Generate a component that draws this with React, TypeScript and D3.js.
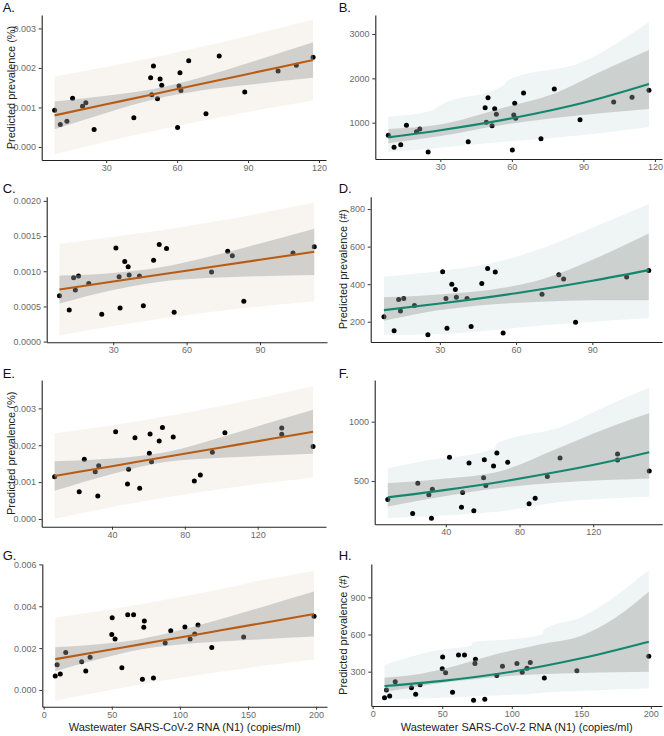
import React, { useEffect, useRef } from 'react';
import * as d3 from 'd3';

// ---------- row 1 : panels A (%) and B (#) ----------
const wwRow1 = [8.2, 10.6, 13.4, 15.8, 20.0, 21.4, 24.9, 41.7, 48.8, 49.3, 50.0, 51.7, 52.8, 53.5, 60.2, 60.8, 61.2, 61.6, 64.9, 72.2, 77.8, 88.6, 102.7, 110.4, 117.5];
const pctA = [0.00093, 0.00057, 0.00065, 0.00123, 0.00103, 0.00112, 0.00044, 0.00074, 0.00175, 0.00132, 0.00205, 0.00122, 0.00172, 0.00156, 0.00049, 0.00154, 0.00188, 0.00143, 0.00218, 0.00084, 0.0023, 0.00139, 0.00192, 0.00207, 0.00227];
const numB = [714, 444, 504, 940, 797, 857, 338, 571, 1338, 1008, 1564, 932, 1316, 1188, 383, 1173, 1436, 1098, 1669, 639, 1759, 1068, 1466, 1571, 1729];

const gridA = [8.2, 30, 50, 70, 90, 117.5];
const fitA = [0.0008, 0.001079, 0.001335, 0.001592, 0.001848, 0.0022];
const ciLoA = [0.00045, 0.000862, 0.0012, 0.001426, 0.001572, 0.00175];
const ciHiA = [0.00115, 0.001296, 0.00147, 0.001758, 0.002124, 0.00265];
const piLoA = [-0.000184, 0.000134, 0.000405, 0.000657, 0.000888, 0.001176];
const piHiA = [0.001784, 0.002024, 0.002265, 0.002527, 0.002808, 0.003224];

const curveXB = [8.2, 30, 60, 90, 117.5];
const curveB = [669, 830, 1100, 1450, 1873];
const ciXB = [8.2, 30, 56, 77, 98, 117.5];
const ciLoB = [534, 700, 950, 1100, 1220, 1310];
const ciHiB = [860, 960, 1330, 1640, 2170, 2640];
const piXB = [8.2, 27, 28, 57, 58, 90, 117.5];
const piLoB = [346, 420, 425, 571, 575, 722, 900];
const piHiB = [1135, 1280, 1330, 1860, 1950, 2380, 3278];

// ---------- row 2 : panels C (%) and D (#) ----------
const wwRow2 = [8.0, 12.0, 13.8, 14.5, 15.8, 20.0, 25.3, 31.1, 32.4, 32.8, 34.7, 36.1, 36.5, 40.7, 42.3, 46.5, 48.8, 51.8, 54.9, 70.2, 76.8, 78.7, 83.4, 103.5, 112.2];
const pctC = [0.000652, 0.000449, 0.000908, 0.000733, 0.000931, 0.000827, 0.000388, 0.001329, 0.000922, 0.000478, 0.001139, 0.001064, 0.000946, 0.000931, 0.000511, 0.001158, 0.001381, 0.001324, 0.000416, 0.000988, 0.001286, 0.00122, 0.000572, 0.001258, 0.001348];
const numD = [227, 152, 319, 257, 324, 287, 131, 466, 324, 165, 399, 372, 330, 324, 175, 404, 484, 465, 140, 346, 450, 427, 197, 438, 473];

const gridC = [8.0, 30, 50, 70, 90, 112.2];
const fitC = [0.00074, 0.000854, 0.000957, 0.00106, 0.001163, 0.001277];
const ciLoC = [0.00054, 0.000732, 0.000854, 0.000906, 0.00093, 0.000948];
const ciHiC = [0.00094, 0.000976, 0.00106, 0.001214, 0.001396, 0.001606];
const piLoC = [0.000089, 0.000222, 0.000329, 0.000421, 0.0005, 0.000575];
const piHiC = [0.001391, 0.001486, 0.001585, 0.001699, 0.001826, 0.001979];

const curveXD = [8.0, 30, 60, 90, 112.2];
const curveD = [262, 297, 352, 418, 475];
const gridD = [8.0, 30, 50, 70, 90, 112.2];
const ciLoD = [205, 262, 292, 306, 314, 315];
const ciHiD = [330, 345, 370, 425, 530, 670];
const piLoD = [129, 134, 155, 180, 200, 218];
const piHiD = [440, 470, 510, 590, 700, 827];

// ---------- row 3 : panels E (%) and F (#) ----------
const wwRow3 = [8.5, 22.0, 24.8, 30.8, 32.7, 32.2, 42.0, 48.5, 49.1, 52.6, 55.2, 60.5, 60.9, 61.7, 65.9, 67.7, 73.6, 85.2, 88.5, 95.1, 102.0, 133.2, 133.2, 150.4];
const pctE = [0.001147, 0.000741, 0.001617, 0.001283, 0.001445, 0.000623, 0.002367, 0.000949, 0.001346, 0.002204, 0.000831, 0.00178, 0.002304, 0.001554, 0.002114, 0.002484, 0.002222, 0.00103, 0.001192, 0.001807, 0.00234, 0.002466, 0.002295, 0.001969];
const numF = [345, 225, 480, 385, 430, 185, 699, 278, 402, 652, 250, 528, 680, 463, 626, 736, 657, 309, 354, 537, 694, 727, 677, 584];

const gridE = [8.5, 40, 70, 100, 130, 150.4];
const fitE = [0.001165, 0.001432, 0.001686, 0.00194, 0.002194, 0.002367];
const ciLoE = [0.000765, 0.001223, 0.001553, 0.001662, 0.001726, 0.001772];
const ciHiE = [0.001565, 0.001641, 0.001819, 0.002218, 0.002662, 0.002962];
const piLoE = [0.000005, 0.000322, 0.000588, 0.000815, 0.001008, 0.001127];
const piHiE = [0.002325, 0.002542, 0.002784, 0.003065, 0.00338, 0.003607];

const gridF = [8.5, 40, 70, 100, 130, 150.4];
const curveF = [362, 425, 494, 575, 669, 742];
const ciLoF = [284, 373, 443, 485, 510, 522];
const ciHiF = [480, 520, 585, 770, 960, 1070];
const piXF = [8.5, 26, 66, 68, 103, 130, 150.4];
const piLoF = [191, 199, 238, 241, 326, 355, 368];
const piHiF = [607, 663, 770, 817, 958, 1150, 1287];

// ---------- row 4 : panels G (%) and H (#) ----------
const wwRow4 = [8.5, 9.9, 12.2, 16.2, 27.9, 30.9, 34.1, 50.3, 50.0, 52.4, 57.4, 61.7, 66.0, 73.5, 73.9, 72.5, 80.6, 89.2, 93.3, 103.7, 107.5, 110.9, 113.3, 123.4, 146.8, 198.5];
const pctG = [0.000672, 0.0012, 0.000768, 0.001792, 0.001344, 0.000912, 0.001568, 0.003456, 0.002656, 0.002432, 0.001056, 0.0036, 0.0036, 0.002992, 0.003296, 0.000512, 0.000576, 0.00224, 0.002832, 0.003008, 0.002432, 0.002672, 0.003104, 0.002032, 0.002528, 0.00352];
const numH = [90, 152, 104, 219, 171, 117, 195, 418, 324, 292, 133, 435, 435, 365, 400, 69, 77, 270, 343, 365, 295, 327, 375, 249, 308, 424];

const gridG = [8.5, 40, 70, 100, 130, 160, 198.5];
const fitG = [0.00147, 0.001825, 0.002167, 0.002508, 0.00285, 0.003192, 0.00363];
const ciLoG = [0.000893, 0.001462, 0.001917, 0.002168, 0.002311, 0.002426, 0.00256];
const ciHiG = [0.002047, 0.002188, 0.002417, 0.002848, 0.003389, 0.003958, 0.0047];
const piLoG = [-0.000516, -0.000109, 0.000251, 0.000578, 0.000875, 0.001143, 0.00145];
const piHiG = [0.003456, 0.003759, 0.004083, 0.004438, 0.004825, 0.005241, 0.0057];

const curveXH = [8.5, 50, 100, 150, 198.5];
const curveH = [184, 226, 300, 408, 542];
const ciXH = [8.5, 30, 50, 92, 120, 150, 175, 198.5];
const ciLoH = [139, 175, 210, 260, 280, 290, 295, 300];
const ciHiH = [252, 275, 320, 450, 520, 590, 740, 945];
const piXH = [8.5, 50, 71, 72, 92, 122, 123, 150, 198.5];
const piLoH = [75, 90, 100, 102, 110, 130, 132, 145, 166];
const piHiH = [354, 480, 510, 540, 555, 600, 640, 740, 1120];

// ---------- axes ----------
const xTicks1 = [30, 60, 90, 120];
const xTicks2 = [30, 60, 90];
const xTicks3 = [40, 80, 120];
const xTicks4 = [0, 50, 100, 150, 200];

const FONT = '"Liberation Sans", Arial, sans-serif';
const PCT_TITLE = 'Predicted prevalence (%)';
const NUM_TITLE = 'Predicted prevalence (#)';
const X_TITLE = 'Wastewater SARS-CoV-2 RNA (N1) (copies/ml)';

const STYLE = [
  { line: '#b85c14', pi: '#f8f5f1' },
  { line: '#13876d', pi: '#eef5f4' },
];

const PANELS = [
  { tag: 'A.', col: 0, box: [41.7, 15, 326, 160], tagY: 11.7, wx: wwRow1, py: pctA, yDomain: [-0.00033, 0.00334], xTicks: xTicks1, yTicks: [0, 0.001, 0.002, 0.003], yFmt: '.3f',
    fitX: gridA, fitY: fitA, ciX: gridA, ciLo: ciLoA, ciHi: ciHiA, piX: gridA, piLo: piLoA, piHi: piHiA, yTitle: PCT_TITLE },
  { tag: 'B.', col: 1, box: [375.3, 15, 662, 159], tagY: 11.7, wx: wwRow1, py: numB, yDomain: [181, 3429], xTicks: xTicks1, yTicks: [1000, 2000, 3000], yFmt: 'd',
    fitX: curveXB, fitY: curveB, ciX: ciXB, ciLo: ciLoB, ciHi: ciHiB, piX: piXB, piLo: piLoB, piHi: piHiB },
  { tag: 'C.', col: 0, box: [46.7, 196.7, 327, 342.3], tagY: 193, wx: wwRow2, py: pctC, yDomain: [-0.00001, 0.00206], xTicks: xTicks2, yTicks: [0, 0.0005, 0.001, 0.0015, 0.002], yFmt: '.4f',
    fitX: gridC, fitY: fitC, ciX: gridC, ciLo: ciLoC, ciHi: ciHiC, piX: gridC, piLo: piLoC, piHi: piHiC },
  { tag: 'D.', col: 1, box: [370.7, 196.7, 662, 342], tagY: 193, wx: wwRow2, py: numD, yDomain: [92, 866], xTicks: xTicks2, yTicks: [200, 400, 600, 800], yFmt: 'd',
    fitX: curveXD, fitY: curveD, ciX: gridD, ciLo: ciLoD, ciHi: ciHiD, piX: gridD, piLo: piLoD, piHi: piHiD, yTitle: NUM_TITLE },
  { tag: 'E.', col: 0, box: [41.7, 380, 326, 526.7], tagY: 378, wx: wwRow3, py: pctE, yDomain: [-0.00021, 0.00377], xTicks: xTicks3, yTicks: [0, 0.001, 0.002, 0.003], yFmt: '.3f',
    fitX: gridE, fitY: fitE, ciX: gridE, ciLo: ciLoE, ciHi: ciHiE, piX: gridE, piLo: piLoE, piHi: piHiE, yTitle: PCT_TITLE },
  { tag: 'F.', col: 1, box: [374.7, 380, 662.3, 524.3], tagY: 378, wx: wwRow3, py: numF, yDomain: [135, 1351], xTicks: xTicks3, yTicks: [500, 1000], yFmt: 'd',
    fitX: gridF, fitY: curveF, ciX: gridF, ciLo: ciLoF, ciHi: ciHiF, piX: piXF, piLo: piLoF, piHi: piHiF },
  { tag: 'G.', col: 0, box: [42.3, 564, 327, 706.7], tagY: 560, wx: wwRow4, py: pctG, yDomain: [-0.0008, 0.00602], xTicks: xTicks4, yTicks: [0, 0.002, 0.004, 0.006], yFmt: '.3f',
    fitX: gridG, fitY: fitG, ciX: gridG, ciLo: ciLoG, ciHi: ciHiG, piX: gridG, piLo: piLoG, piHi: piHiG, xTitle: X_TITLE },
  { tag: 'H.', col: 1, box: [371.3, 564, 662, 706], tagY: 560, wx: wwRow4, py: numH, yDomain: [23, 1169], xTicks: xTicks4, yTicks: [300, 600, 900], yFmt: 'd',
    fitX: curveXH, fitY: curveH, ciX: ciXH, ciLo: ciLoH, ciHi: ciHiH, piX: piXH, piLo: piLoH, piHi: piHiH, yTitle: NUM_TITLE, xTitle: X_TITLE },
];

// ggplot-style 5% expansion of the data range
const expand = (vals: number[]) => {
  const [lo, hi] = d3.extent(vals) as [number, number];
  const pad = (hi - lo) * 0.05;
  return [lo - pad, hi + pad];
};

const styleAxis = (g: any) => {
  g.attr('font-family', FONT).attr('font-size', 9);
  g.select('.domain').attr('stroke', '#222').attr('stroke-width', 1.1);
  g.selectAll('.tick line').attr('stroke', '#333').attr('stroke-width', 1);
  g.selectAll('.tick text').attr('fill', '#6a6a6a');
};

const Panel = ({ p }: { p: any }) => {
  const xRef = useRef<SVGGElement>(null);
  const yRef = useRef<SVGGElement>(null);
  const [l, t, r, b] = p.box;
  const st = STYLE[p.col];

  const x = d3.scaleLinear().domain(expand(p.wx)).range([l, r]);
  const y = d3.scaleLinear().domain(p.yDomain).range([b, t]);

  useEffect(() => {
    const xAxis = d3.axisBottom(x).tickValues(p.xTicks).tickSize(3).tickSizeOuter(0).tickPadding(1.5).tickFormat(d3.format('d'));
    d3.select(xRef.current).call(xAxis as any).call(styleAxis);
    const yAxis = d3.axisLeft(y).tickValues(p.yTicks).tickSize(3).tickSizeOuter(0).tickPadding(2.7).tickFormat(d3.format(p.yFmt));
    d3.select(yRef.current).call(yAxis as any).call(styleAxis);
  }, [p]);

  const band = (xs: number[], lo: number[], hi: number[]) =>
    d3.area<number>()
      .x((_, i) => x(xs[i]))
      .y0((_, i) => y(lo[i]))
      .y1((_, i) => y(hi[i]))
      .curve(d3.curveMonotoneX)(xs) || '';

  const fitPath = d3.line<number>()
    .x((_, i) => x(p.fitX[i]))
    .y((_, i) => y(p.fitY[i]))
    .curve(d3.curveMonotoneX)(p.fitX) || '';

  const titleX = p.col === 0 ? 15 : 347;

  return (
    <g>
      <path d={band(p.piX, p.piLo, p.piHi)} fill={st.pi} />
      {p.wx.map((v: number, i: number) => (
        <circle key={i} cx={x(v)} cy={y(p.py[i])} r={2.5} fill="#000" />
      ))}
      <path d={band(p.ciX, p.ciLo, p.ciHi)} fill="#999999" fillOpacity={0.4} />
      <path d={fitPath} fill="none" stroke={st.line} strokeWidth={2.1} />
      <g ref={xRef} transform={`translate(0,${b})`} />
      <g ref={yRef} transform={`translate(${l},0)`} />
      <text x={p.col === 0 ? 2.7 : 338.7} y={p.tagY} fontSize={13} fontFamily={FONT} fill="#111">{p.tag}</text>
      {p.yTitle && (
        <text transform={`translate(${titleX},${(t + b) / 2}) rotate(-90)`} textAnchor="middle" fontSize={11} fontFamily={FONT} fill="#222">
          {p.yTitle}
        </text>
      )}
      {p.xTitle && (
        <text x={(l + r) / 2} y={731} textAnchor="middle" fontSize={11} fontFamily={FONT} fill="#222">
          {p.xTitle}
        </text>
      )}
    </g>
  );
};

export default function App() {
  return (
    <>
      <style>{'body{margin:0}'}</style>
      <svg width={664} height={736} style={{ display: 'block', background: '#fff' }}>
        {PANELS.map((p) => <Panel key={p.tag} p={p} />)}
      </svg>
    </>
  );
}
